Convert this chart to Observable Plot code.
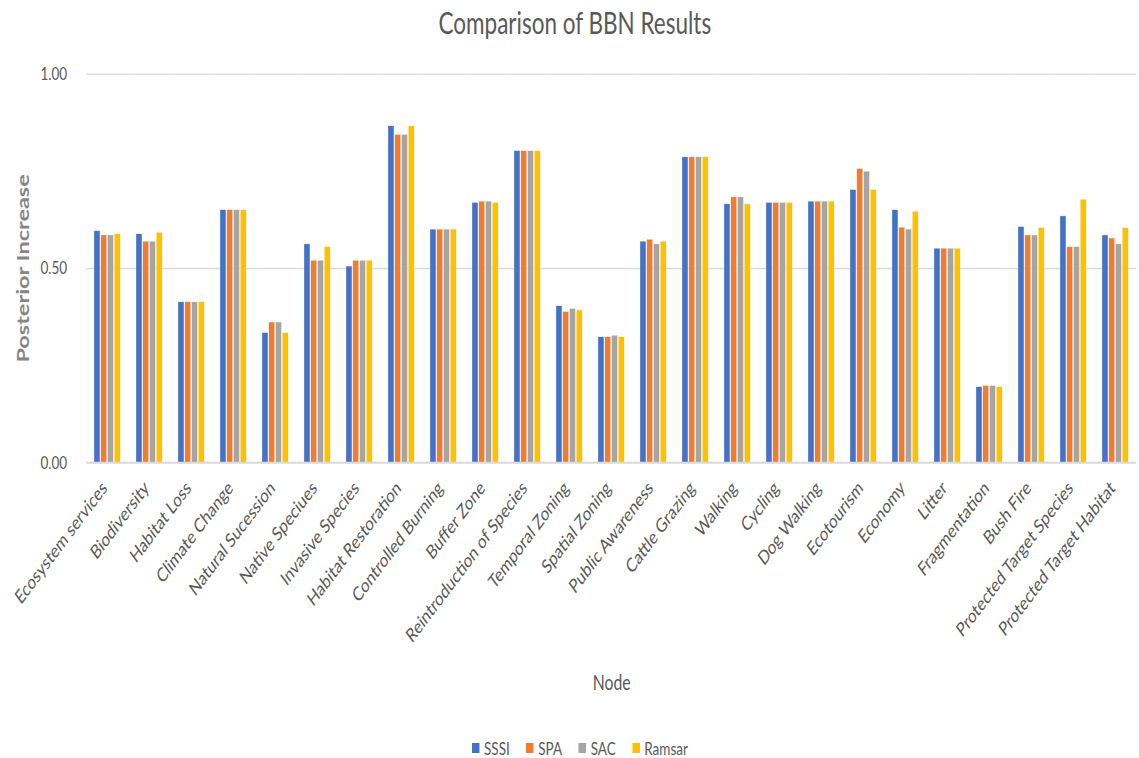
<!DOCTYPE html>
<html>
<head>
<meta charset="utf-8">
<script src="https://cdn.jsdelivr.net/npm/d3@7"></script>
<script src="https://cdn.jsdelivr.net/npm/@observablehq/plot@0.6"></script>
<style>
  body { margin: 0; background: #fff; font-family: Lato, "Open Sans", sans-serif; }
  #page { width: 1139px; height: 758px; position: relative; overflow: hidden; background: #fff; }
  #title { height: 45px; line-height: 45px; text-align: center; padding-left: 11px; color: #595959; font-size: 30px; white-space: nowrap; }
  #title span, #legend .inner { display: inline-block; transform: scaleX(0.75); transform-origin: center; }
  #chart svg { display: block; }
  #legend { height: 48px; text-align: center; padding-left: 20px; box-sizing: border-box; padding-top: 25px; color: #595959; font-size: 18px; white-space: nowrap; }
  #legend .item { display: inline-flex; align-items: center; margin: 0 11px; }
  #legend .sw { width: 10px; height: 10px; margin-right: 6px; display: inline-block; }
</style>
</head>
<body>
<div id="page">
  <div id="title"><span>Comparison of BBN Results</span></div>
  <div id="chart"></div>
  <div id="legend"></div>
</div>
<script>
// Nodes of the Bayesian belief network
const nodes = [
  "Ecosystem services", "Biodiversity", "Habitat Loss", "Climate Change",
  "Natural Sucession", "Native Speciues", "Invasive Species", "Habitat Restoration",
  "Controlled Burning", "Buffer Zone", "Reintroduction of Species", "Temporal Zoning",
  "Spatial Zoning", "Public Awareness", "Cattle Grazing", "Walking", "Cycling",
  "Dog Walking", "Ecotourism", "Economy", "Litter", "Fragmentation", "Bush Fire",
  "Protected Target Species", "Protected Target Habitat"
];

// Designation types (series)
const series = ["SSSI", "SPA", "SAC", "Ramsar"];
const seriesColors = ["#4472C4", "#ED7D31", "#A5A5A5", "#FFC000"];

// Posterior increase per node, one array per designation
const sssi   = [0.596, 0.588, 0.413, 0.650, 0.334, 0.562, 0.505, 0.866, 0.600, 0.669, 0.802, 0.403, 0.323, 0.569, 0.786, 0.665, 0.669, 0.672, 0.702, 0.650, 0.551, 0.195, 0.607, 0.634, 0.585];
const spa    = [0.585, 0.569, 0.413, 0.650, 0.361, 0.520, 0.520, 0.844, 0.600, 0.672, 0.802, 0.388, 0.323, 0.574, 0.786, 0.683, 0.669, 0.672, 0.756, 0.605, 0.551, 0.198, 0.585, 0.555, 0.577];
const sac    = [0.585, 0.569, 0.413, 0.650, 0.361, 0.520, 0.520, 0.844, 0.600, 0.672, 0.802, 0.396, 0.327, 0.562, 0.786, 0.683, 0.669, 0.672, 0.749, 0.600, 0.551, 0.198, 0.585, 0.555, 0.562];
const ramsar = [0.588, 0.592, 0.413, 0.650, 0.334, 0.555, 0.520, 0.866, 0.600, 0.669, 0.802, 0.392, 0.323, 0.569, 0.786, 0.665, 0.669, 0.672, 0.702, 0.646, 0.551, 0.195, 0.604, 0.677, 0.604];

const yTicks = [0, 0.5, 1];

// Long-format rows for the grouped bars
const valuesBySeries = [sssi, spa, sac, ramsar];
const rows = [];
nodes.forEach((node, i) => {
  series.forEach((s, j) => rows.push({node, series: s, value: valuesBySeries[j][i]}));
});

// The chart is laid out on a wider canvas and squeezed horizontally to 1139px,
// which gives the narrow lettering and the steep label slant.
const squeeze = 0.75;
const W = 1139 / squeeze;
const H = 665;

const plot = Plot.plot({
  width: W,
  height: H,
  marginTop: 28.6,
  marginBottom: 247.7,
  marginLeft: 108.7,
  marginRight: -2.5,
  style: {fontFamily: "Lato, 'Open Sans', sans-serif", fontSize: "18px", color: "#595959", background: "white", overflow: "visible"},
  fx: {domain: nodes, padding: 0},
  x: {domain: series, paddingInner: 0.15, paddingOuter: 0.918, axis: null},
  y: {domain: [0, 1]},
  color: {domain: series, range: seriesColors},
  marks: [
    Plot.gridY([0.5, 1], {stroke: "#d9d9d9", strokeOpacity: 1, strokeWidth: 1.4}),
    Plot.barY(rows, {fx: "node", x: "series", y: "value", fill: "series", stroke: "white", strokeWidth: 0.5}),
    Plot.ruleY([0], {stroke: "#d9d9d9", strokeWidth: 2}),
    Plot.axisY({
      ticks: yTicks, tickFormat: ".2f", tickSize: 0, tickPadding: 26, fontSize: 18,
      label: "Posterior Increase", labelAnchor: "center", labelOffset: 93, labelArrow: "none"
    }),
    Plot.axisFx({
      anchor: "bottom", tickRotate: -45, tickSize: 0, tickPadding: 22, dx: -4, fontSize: 19.5,
      label: "Node", labelAnchor: "center", labelOffset: 227
    })
  ]
});

// Squeeze the drawing horizontally
plot.setAttribute("preserveAspectRatio", "none");
plot.setAttribute("width", 1139);
plot.setAttribute("height", H);
plot.style.width = "1139px";
plot.style.height = H + "px";
plot.style.maxWidth = "none";

// Axis titles: plain text, y title bold and lighter grey
d3.select(plot).selectAll("text").each(function() {
  const t = this.textContent;
  if (t.includes("Posterior Increase")) {
    this.textContent = "Posterior Increase";
    d3.select(this).attr("font-weight", "bold").attr("fill", "#858585").attr("font-size", 23.5);
  } else if (t.includes("Node")) {
    this.textContent = "Node";
    d3.select(this).attr("font-size", 21);
  }
});

document.getElementById("chart").appendChild(plot);

// Legend built from the plot's color scale
const color = plot.scale("color");
const legendInner = d3.select("#legend").append("div").attr("class", "inner");
color.domain.forEach((name, i) => {
  const item = legendInner.append("span").attr("class", "item");
  item.append("span").attr("class", "sw").style("background", color.range[i]);
  item.append("span").text(name);
});
</script>
</body>
</html>
